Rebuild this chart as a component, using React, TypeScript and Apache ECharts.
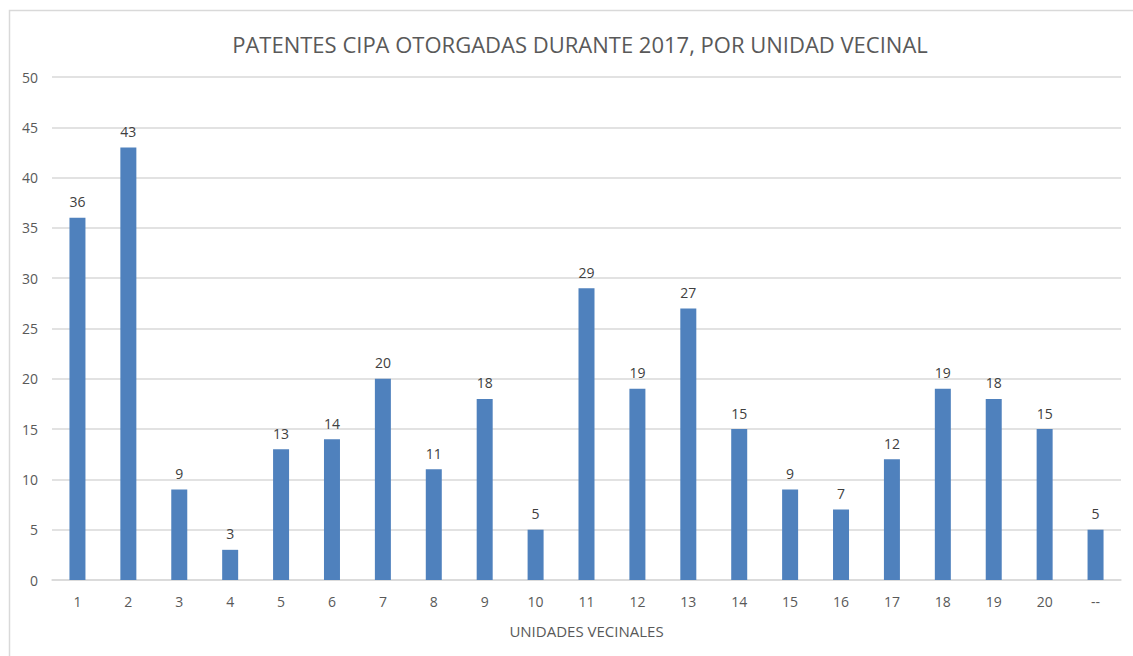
import React, { useEffect, useRef } from "react";
import * as echarts from "echarts";

const categories = ["1", "2", "3", "4", "5", "6", "7", "8", "9", "10", "11", "12", "13", "14", "15", "16", "17", "18", "19", "20", "--"];
const values = [36, 43, 9, 3, 13, 14, 20, 11, 18, 5, 29, 19, 27, 15, 9, 7, 12, 19, 18, 15, 5];
const titleText = "PATENTES CIPA OTORGADAS DURANTE 2017, POR UNIDAD VECINAL";
const xAxisName = "UNIDADES VECINALES";

const FONT = "'Open Sans', sans-serif";

export default function App() {
  const ref = useRef<HTMLDivElement>(null);
  useEffect(() => {
    if (!ref.current) return;
    const chart = echarts.init(ref.current, null, { renderer: "svg" });
    chart.setOption({
      animation: false,
      backgroundColor: "#ffffff",
      textStyle: { fontFamily: FONT },
      title: {
        text: titleText,
        left: 575,
        textAlign: "center",
        top: 28,
        textStyle: { fontFamily: FONT, fontSize: 22, fontWeight: "normal", color: "#595959" },
      },
      graphic: [
        {
          type: "rect",
          shape: { x: 9.5, y: 10.5, width: 1200, height: 700 },
          style: { fill: "none", stroke: "#d9d9d9", lineWidth: 1.5 },
          silent: true,
        },
      ],
      grid: { left: 52, right: 12, top: 77, bottom: 76, containLabel: false },
      xAxis: {
        type: "category",
        data: categories,
        name: xAxisName,
        nameLocation: "middle",
        nameGap: 43,
        nameTextStyle: { fontFamily: FONT, fontSize: 15, color: "#595959" },
        axisLine: { lineStyle: { color: "#d9d9d9", width: 1.5 } },
        axisTick: { show: false },
        axisLabel: { fontFamily: FONT, fontSize: 14, color: "#595959", margin: 14 },
      },
      yAxis: {
        type: "value",
        min: 0,
        max: 50,
        interval: 5,
        axisLine: { show: false },
        axisTick: { show: false },
        axisLabel: { fontFamily: FONT, fontSize: 14, color: "#595959", margin: 14 },
        splitLine: { lineStyle: { color: "#d9d9d9", width: 1.5 } },
      },
      series: [
        {
          type: "bar",
          data: values,
          barWidth: 16,
          itemStyle: { color: "#4f81bd" },
          label: {
            show: true,
            position: "top",
            distance: 9,
            fontFamily: FONT,
            fontSize: 14,
            color: "#404040",
          },
        },
      ],
    });
    return () => chart.dispose();
  }, []);
  return (
    <div
      ref={ref}
      style={{ position: "fixed", left: 0, top: 0, width: 1133, height: 656 }}
    />
  );
}
